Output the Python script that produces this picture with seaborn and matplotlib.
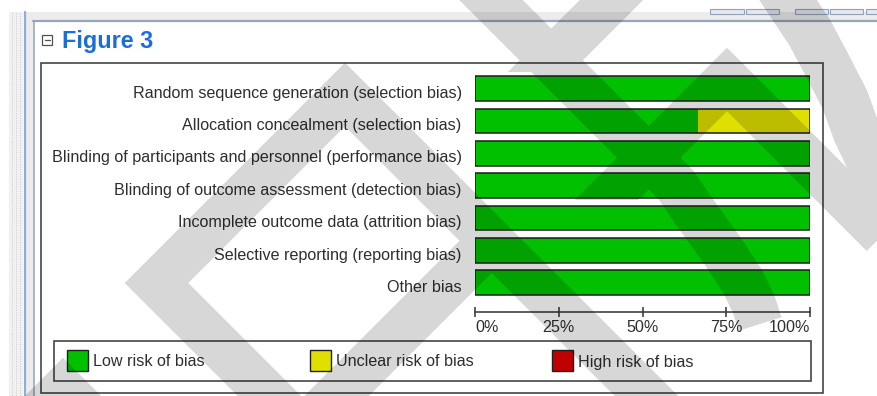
import numpy as np
import pandas as pd
import matplotlib
matplotlib.use("Agg")
import matplotlib.pyplot as plt
import seaborn as sns
from matplotlib.patches import Rectangle
from matplotlib.path import Path
from matplotlib.transforms import ScaledTranslation

# ---- data: percentage of studies per risk-of-bias judgement ----
domains = [
    "Random sequence generation (selection bias)",
    "Allocation concealment (selection bias)",
    "Blinding of participants and personnel (performance bias)",
    "Blinding of outcome assessment (detection bias)",
    "Incomplete outcome data (attrition bias)",
    "Selective reporting (reporting bias)",
    "Other bias",
]
low_risk = [100, 66.7, 100, 100, 100, 100, 100]
unclear_risk = [0, 33.3, 0, 0, 0, 0, 0]
high_risk = [0, 0, 0, 0, 0, 0, 0]

tick_values = [0, 25, 50, 75, 100]
tick_labels = ["0%", "25%", "50%", "75%", "100%"]
legend_labels = ["Low risk of bias", "Unclear risk of bias", "High risk of bias"]
risk_colors = ["#00c000", "#e0e000", "#c00000"]
title = "Figure 3"

W, H = 877, 396
FS = 11.65
TEXT = "#2e2e2e"

sns.set_theme(style="white")
plt.rcParams["font.family"] = ["Liberation Sans", "DejaVu Sans"]

fig = plt.figure(figsize=(W / 100, H / 100), dpi=100)
fig.patch.set_facecolor("white")


def px_box(x0, y0, x1, y1):
    return [x0 / W, 1 - y1 / H, (x1 - x0) / W, (y1 - y0) / H]


# ---- window chrome, drawn in pixel coordinates ----
bg = fig.add_axes([0, 0, 1, 1], zorder=0)
bg.set_xlim(0, W)
bg.set_ylim(H, 0)
bg.axis("off")

bg.add_patch(Rectangle((26, 12), W - 26, 8.5, fc="#ececec", ec="none"))
bg.add_patch(Rectangle((9, 12), 14, H - 12, fc="#f1f1f1", ec="none"))
for xd in (12, 16, 20):
    bg.plot([xd, xd], [13, H], color="#c9c9c9", lw=0.7, ls=(0, (1, 1.5)))
bg.plot([24.5, 24.5], [12, H], color="#8eaed8", lw=1.6)
bg.add_patch(Rectangle((26, 12), 7, H - 12, fc="#ececec", ec="none"))
bg.plot([34, 34], [20.5, H], color="#a9b3c2", lw=1.4)
bg.plot([33, W], [21, 21], color="#98a5b7", lw=1.6)
for x0, x1 in [(710, 744), (746, 779), (795, 828), (830, 863), (866, 885)]:
    bg.add_patch(Rectangle((x0, 9), x1 - x0, 5, fc="#e4e8ee", ec="#8fa3bf", lw=0.8))

# collapse icon and heading
bg.add_patch(Rectangle((42, 35), 10, 10, fill=False, ec="#505050", lw=0.9))
bg.plot([44.5, 49.5], [40, 40], color="#505050", lw=0.9)
bg.text(62, 48.3, title, fontsize=16.8, fontweight="bold", color="#1a6ed8", va="baseline", ha="left")

# figure frame and legend box
bg.add_patch(Rectangle((40.7, 63), 782, 329.5, fill=False, ec="#454545", lw=1.2))
bg.add_patch(Rectangle((54, 341), 757, 40, fill=False, ec="#454545", lw=1.2))
for i, (lab, col) in enumerate(zip(legend_labels, risk_colors)):
    sx = 67 + i * 242.5
    bg.add_patch(Rectangle((sx, 350), 21, 21, fc=col, ec="#202020", lw=1.0))
    bg.text(sx + 26, 366.5, lab, fontsize=FS, color=TEXT, va="baseline", ha="left")

# ---- stacked horizontal bars ----
df = pd.DataFrame({"domain": domains, "low": low_risk, "unclear": unclear_risk, "high": high_risk})
df["low_unclear"] = df["low"] + df["unclear"]
df["total"] = df["low_unclear"] + df["high"]

ax = fig.add_axes(px_box(475, 72.3, 810, 312.3), zorder=1)
ax.patch.set_alpha(0)
bw = 0.76
sns.barplot(data=df, x="total", y="domain", orient="h", color=risk_colors[2],
            saturation=1, width=bw, linewidth=0, ax=ax)
sns.barplot(data=df, x="low_unclear", y="domain", orient="h", color=risk_colors[1],
            saturation=1, width=bw, linewidth=0, ax=ax)
sns.barplot(data=df, x="low", y="domain", orient="h", color=risk_colors[0],
            saturation=1, width=bw, linewidth=0, ax=ax)
sns.barplot(data=df, x="total", y="domain", orient="h", color="#1c1c1c",
            saturation=1, width=bw, fill=False, linewidth=1.1, ax=ax)

ax.set_xlim(0, 100)
ax.set_ylim(6.913, -0.5)
ax.set_xlabel("")
ax.set_ylabel("")
for side in ("top", "right", "left"):
    ax.spines[side].set_visible(False)
ax.spines["bottom"].set_color("#333333")
ax.spines["bottom"].set_linewidth(1.1)
ax.set_xticks(tick_values, tick_labels)
ax.tick_params(axis="x", bottom=True, direction="inout", length=7.5, width=1.1,
               color="#333333", labelsize=FS, labelcolor=TEXT, pad=1.5)
ax.tick_params(axis="y", left=False, length=0, pad=9.6, labelsize=FS, labelcolor=TEXT)
xl = ax.get_xticklabels()
xl[0].set_ha("left")
xl[-1].set_ha("right")
shift = ScaledTranslation(0, -3.2 / 100, fig.dpi_scale_trans)
for lbl in ax.get_yticklabels():
    lbl.set_transform(lbl.get_transform() + shift)

# ---- diagonal watermark strokes over the page ----
def stroke(points, width):
    pts = np.asarray(points, float)
    d = np.gradient(pts, axis=0)
    d /= np.linalg.norm(d, axis=1)[:, None]
    n = np.c_[-d[:, 1], d[:, 0]]
    return np.vstack([pts + n * width / 2, (pts - n * width / 2)[::-1]])


shapes = [
    np.array([(252, 410), (125, 283), (345, 63), (692, 410), (629, 410),
              (345, 126), (188, 283), (315, 410)]),
    np.array([(290, 410), (355, 410), (492, 273), (459.5, 240.5)]),
    np.array([(11, 410), (63, 358), (115, 410)]),
    np.array([(590, -10), (653, -10), (571, 72), (508, 72)]),
    np.array([(575, 200), (727, 48), (898, 219), (867, 251), (727, 111), (638, 200)]),
    stroke([(466, -25), (491, 0), (641, 150), (676, 185), (698, 217), (722, 250),
            (743, 282), (754, 305), (760, 324)], 45),
    stroke([(768, -30), (788, 0), (810, 33), (828, 67), (845, 100), (857, 133),
            (870, 160), (890, 200)], 48),
]

ss = 2
gx, gy = np.meshgrid((np.arange(W * ss) + 0.5) / ss, (np.arange(H * ss) + 0.5) / ss)
grid = np.c_[gx.ravel(), gy.ravel()]
inside = np.zeros(len(grid), bool)
for poly in shapes:
    inside |= Path(poly).contains_points(grid)
cover = inside.reshape(H, ss, W, ss).mean(axis=(1, 3))
rgba = np.zeros((H, W, 4))
rgba[..., 3] = 0.16 * cover

wm = fig.add_axes([0, 0, 1, 1], zorder=5)
wm.imshow(rgba, extent=(0, W, H, 0), interpolation="nearest", aspect="auto")
wm.set_xlim(0, W)
wm.set_ylim(H, 0)
wm.axis("off")

fig.savefig("out.png", dpi=100, facecolor="white")
